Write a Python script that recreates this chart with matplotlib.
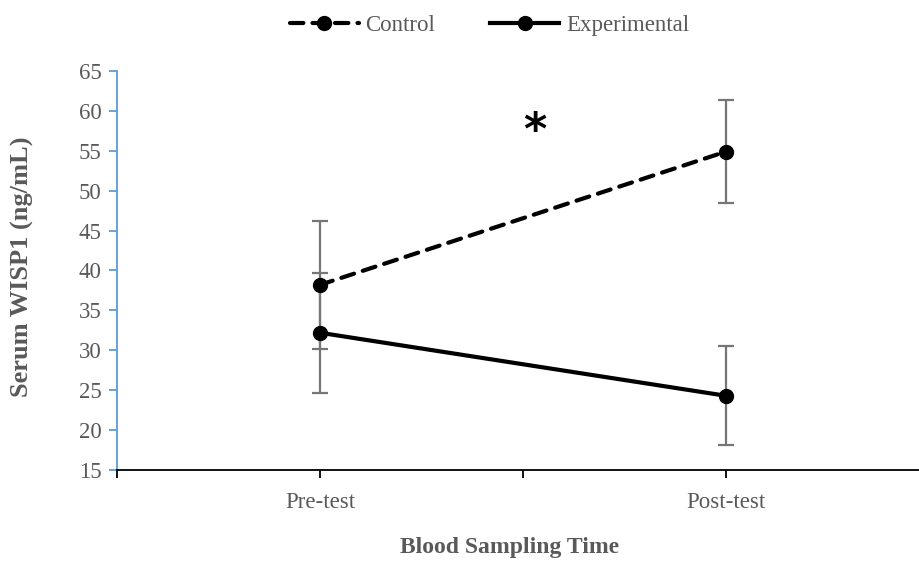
import matplotlib
matplotlib.use("Agg")
import matplotlib.pyplot as plt

# values
times = ["Pre-test", "Post-test"]
control_mean = [38.2, 54.9]
control_err = [8.0, 6.5]
exper_mean = [32.2, 24.3]
exper_err = [7.5, 6.2]

plt.rcParams['font.family'] = ['Liberation Serif', 'DejaVu Serif']
grey = '#595959'
err_grey = '#767676'
blue = '#5B9BD5'

fig = plt.figure(figsize=(9.2, 5.61), dpi=100)
ax = fig.add_axes([117 / 920, 1 - 470 / 561, 812 / 920, 399 / 561])

xpos = [0.5, 1.5]

# error bars first so the markers sit on top
ax.errorbar(xpos, control_mean, yerr=control_err, fmt='none', ecolor=err_grey,
            elinewidth=1.6, capsize=6, capthick=1.6, zorder=1)
ax.errorbar(xpos, exper_mean, yerr=exper_err, fmt='none', ecolor=err_grey,
            elinewidth=1.6, capsize=6, capthick=1.6, zorder=1)

ax.plot(xpos, control_mean, color='black', lw=3, ls=(0, (3.2, 2.2)),
        dash_capstyle='round', marker='o', ms=10, label='Control', zorder=3)
ax.plot(xpos, exper_mean, color='black', lw=3, ls='-',
        marker='o', ms=10, label='Experimental', zorder=3)

ax.text(1.03, 57.4, '*', fontsize=32, fontweight='bold', ha='center', va='center',
        family=['DejaVu Sans'])

ax.set_xlim(0, 2)
ax.set_ylim(15, 65)
ax.set_yticks(range(15, 66, 5))
ax.set_xticks([0, 0.5, 1, 1.5, 2])
ax.set_xticklabels(['', times[0], '', times[1], ''])

for s in ['top', 'right']:
    ax.spines[s].set_visible(False)
ax.spines['left'].set_color(blue)
ax.spines['left'].set_linewidth(1.3)
ax.spines['bottom'].set_color('black')
ax.spines['bottom'].set_linewidth(1.3)

ax.tick_params(axis='y', colors=blue, labelcolor=grey, labelsize=16.5, length=6, width=1.3, pad=5)
ax.tick_params(axis='x', colors='black', labelcolor=grey, labelsize=16.5, length=6, width=1.3, pad=10)

ax.set_ylabel('Serum WISP1 (ng/mL)', fontsize=19, fontweight='bold', color=grey)
ax.set_xlabel('Blood Sampling Time', fontsize=17, fontweight='bold', color=grey)
ax.yaxis.set_label_coords(-0.102, 0.51)
ax.xaxis.set_label_coords(0.484, -0.168)

leg = fig.legend(loc='upper center', bbox_to_anchor=(0.532, 1.01), ncol=2, frameon=False,
                 fontsize=16.5, handlelength=3, handletextpad=0.3, columnspacing=2.4)
for t in leg.get_texts():
    t.set_color(grey)

fig.savefig('out.png', dpi=100)
